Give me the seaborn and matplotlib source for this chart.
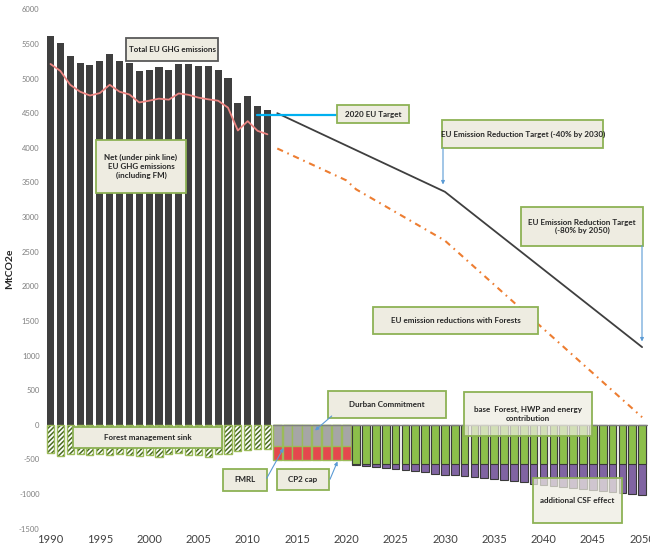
import numpy as np
import pandas as pd
import matplotlib
matplotlib.use("Agg")
import matplotlib.pyplot as plt
import matplotlib.transforms as mtransforms
from matplotlib.patches import Rectangle
import seaborn as sns

# ---------------- data ----------------
hist_years = list(range(1990, 2013))
total_ghg = [5620, 5520, 5320, 5220, 5200, 5255, 5360, 5260, 5220, 5110,
             5120, 5170, 5130, 5210, 5210, 5180, 5175, 5120, 5005, 4645,
             4750, 4605, 4545]
net_ghg = [5210, 5110, 4910, 4810, 4755, 4790, 4910, 4810, 4770, 4655,
           4680, 4710, 4695, 4785, 4765, 4725, 4700, 4680, 4580, 4250,
           4385, 4245, 4195]
forest_sink = [-410, -448, -425, -424, -433, -424, -433, -419, -433, -457,
               -433, -465, -424, -409, -433, -443, -465, -419, -425, -385,
               -360, -350, -342]

cp2_years = list(range(2013, 2021))
fmrl = [-310, -310, -310, -310, -310, -310, -310, -310]
cp2_cap = [-515, -515, -515, -515, -515, -515, -515, -515]

future_years = list(range(2021, 2051))
base_forest = [-563, -563, -563, -563, -563, -563, -563, -563, -563, -563,
               -563, -563, -563, -563, -563, -563, -563, -563, -563, -563,
               -563, -563, -563, -563, -563, -563, -563, -563, -563, -563]
csf_extra = [-20, -35, -48, -63, -77, -92, -106, -125, -144, -159,
             -168, -183, -197, -207, -226, -241, -255, -269, -289, -303,
             -318, -332, -346, -361, -375, -390, -404, -418, -433, -457]

target_years = [2013, 2030, 2050]
target_vals = [4500, 3365, 1122]
forest_path_years = [2013, 2020, 2021, 2030, 2050]
forest_path_vals = [3990, 3530, 3400, 2660, 110]

x_ticks = [1990, 1995, 2000, 2005, 2010, 2015, 2020, 2025, 2030, 2035, 2040, 2045, 2050]
y_ticks = [-1500, -1000, -500, 0, 500, 1000, 1500, 2000, 2500, 3000, 3500,
           4000, 4500, 5000, 5500, 6000]

# ---------------- style ----------------
sns.set_style("white")
plt.rcParams['font.family'] = ['Lato', 'DejaVu Sans']
plt.rcParams['hatch.linewidth'] = 1.1

W, H = 650, 545
fig = plt.figure(figsize=(W / 100, H / 100), dpi=100)
ax = fig.add_axes([45.5 / W, (H - 528.7) / H, 602 / W, 519.4 / H])

df_hist = pd.DataFrame({'year': hist_years, 'total': total_ghg,
                        'net': net_ghg, 'sink': forest_sink})
df_cp = pd.DataFrame({'year': cp2_years, 'fmrl': fmrl, 'cap': cp2_cap})
df_fut = pd.DataFrame({'year': future_years, 'base': base_forest,
                       'total': [b + c for b, c in zip(base_forest, csf_extra)]})

common = dict(native_scale=True, errorbar=None, saturation=1, ax=ax)

# historical emissions
sns.barplot(data=df_hist, x='year', y='total', width=0.72, color='#3f3f3f',
            linewidth=0, **common)
# forest management sink (hatched)
sns.barplot(data=df_hist, x='year', y='sink', width=0.72, color='white',
            edgecolor='#4a6b22', hatch='///////', linewidth=0, **common)
sns.barplot(data=df_hist, x='year', y='sink', width=0.72, fill=False,
            color='#9bbb59', linewidth=1.0, **common)
# CP2 cap and FMRL
sns.barplot(data=df_cp, x='year', y='cap', width=0.92, color='#e5484d',
            edgecolor='#9bbb59', linewidth=1.0, **common)
sns.barplot(data=df_cp, x='year', y='fmrl', width=0.92, color='#a6a6a6',
            edgecolor='#9bbb59', linewidth=1.0, **common)
# future forest contributions
sns.barplot(data=df_fut, x='year', y='total', width=0.78, color='#8064a2',
            edgecolor='#3a3a3a', linewidth=0.8, **common)
sns.barplot(data=df_fut, x='year', y='base', width=0.78, color='#8cbf4a',
            edgecolor='#3a3a3a', linewidth=0.8, **common)

ax.plot([2012.55, 2050.5], [0, 0], color='#7f7f7f', lw=1.0, zorder=3)

# lines
sns.lineplot(x=hist_years, y=net_ghg, color='#ec8582', lw=1.3, ax=ax, zorder=4)
sns.lineplot(x=target_years, y=target_vals, color='#3f3f3f', lw=1.3, ax=ax, zorder=4)
sns.lineplot(x=forest_path_years, y=forest_path_vals, color='#ed7d31', lw=1.5,
             linestyle=(0, (3.0, 2.3, 0.8, 2.3)), ax=ax, zorder=4)

ax.set_xlim(1990 + (45.5 - 50.5) / 9.86, 1990 + (647.5 - 50.5) / 9.86)
ax.set_ylim(-1500, 6000)
ax.set_xticks(x_ticks)
ax.set_xticklabels([str(v) for v in x_ticks], fontsize=8, color='#404040')
ax.set_yticks(y_ticks)
ax.set_yticklabels([str(v) for v in y_ticks], fontsize=5.5, color='#7f7f7f')
ax.tick_params(axis='x', length=0, pad=4)
ax.tick_params(axis='y', length=0, pad=4.3)
for s in ax.spines.values():
    s.set_visible(False)
ax.set_xlabel('')
ax.set_ylabel('MtCO2e', fontsize=7.5, fontweight='bold', color='#262626')
ax.yaxis.set_label_coords((14.5 - 45.5) / 602, 0.5)

# ---------------- annotations (pixel layout) ----------------
pix = mtransforms.Affine2D().scale(1 / W, -1 / H).translate(0, 1) + fig.transFigure
green = '#8db255'
boxes = [
    (126, 37.7, 218.3, 61.3, 'Total EU GHG emissions', '#595959', 1.0),
    (96, 140, 186, 192.7, 'Net (under pink line)\nEU GHG emissions\n(including FM)', green, 1.0),
    (336.7, 105, 409.3, 123.3, '2020 EU Target', green, 1.0),
    (442.3, 120, 603.3, 148.3, 'EU Emission Reduction Target (-40% by 2030)', green, 1.0),
    (521, 207.3, 643.3, 245.7, 'EU Emission Reduction Target\n(-80% by 2050)', green, 1.0),
    (373, 306.7, 538.3, 334, 'EU emission reductions with Forests', green, 1.0),
    (328.3, 391, 445.7, 418.3, 'Durban Commitment', green, 1.0),
    (464, 392.3, 592.3, 436, 'base  Forest, HWP and energy\ncontribution', green, 0.72),
    (532.7, 477.7, 621.7, 523.3, 'additional CSF effect', green, 0.72),
    (276.7, 469.3, 329.3, 490, 'CP2 cap', green, 1.0),
    (223.3, 469.3, 266.7, 490.7, 'FMRL', green, 1.0),
    (73.3, 427.3, 221.7, 447.7, 'Forest management sink', green, 1.0),
]
for x0, y0, x1, y1, label, ec, alpha in boxes:
    ax.add_patch(Rectangle((x0, y0), x1 - x0, y1 - y0, transform=pix,
                           facecolor=(0.933, 0.925, 0.882, alpha), edgecolor=ec,
                           lw=1.3, zorder=6, clip_on=False))
    ax.text((x0 + x1) / 2, (y0 + y1) / 2, label, transform=pix, ha='center',
            va='center', fontsize=5.8, fontweight='bold', color='#262626',
            linespacing=1.25, zorder=7, clip_on=False)

# 2020 target connector
ax.plot([257, 336.7], [115, 115], transform=pix, color='#00b0f0', lw=1.6,
        zorder=5, clip_on=False)

arrows = [
    ((443, 148.3), (443, 184.5)),
    ((642, 245.7), (642, 341.5)),
    ((331.7, 416), (315, 430.5)),
    ((330, 479.3), (337.5, 461.5)),
    ((266.7, 478.3), (283.5, 448)),
]
for (xs, ys), (xe, ye) in arrows:
    ax.annotate('', xy=(xe, ye), xytext=(xs, ys), xycoords=pix, textcoords=pix,
                arrowprops=dict(arrowstyle='-|>', color='#5b9bd5', lw=0.8,
                                mutation_scale=5, shrinkA=0, shrinkB=0),
                zorder=8, annotation_clip=False)

fig.savefig('out.png', dpi=100)
